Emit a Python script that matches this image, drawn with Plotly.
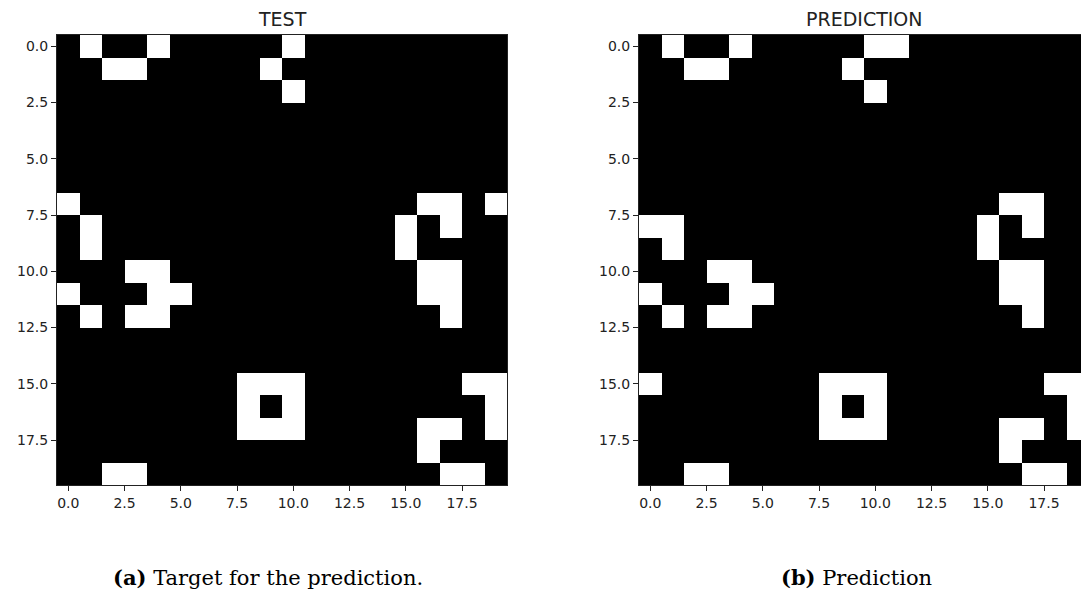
import plotly.graph_objects as go

# 20x20 binary grids (1 = white cell)
test_grid = [
    [0,1,0,0,1,0,0,0,0,0,1,0,0,0,0,0,0,0,0,0],
    [0,0,1,1,0,0,0,0,0,1,0,0,0,0,0,0,0,0,0,0],
    [0,0,0,0,0,0,0,0,0,0,1,0,0,0,0,0,0,0,0,0],
    [0,0,0,0,0,0,0,0,0,0,0,0,0,0,0,0,0,0,0,0],
    [0,0,0,0,0,0,0,0,0,0,0,0,0,0,0,0,0,0,0,0],
    [0,0,0,0,0,0,0,0,0,0,0,0,0,0,0,0,0,0,0,0],
    [0,0,0,0,0,0,0,0,0,0,0,0,0,0,0,0,0,0,0,0],
    [1,0,0,0,0,0,0,0,0,0,0,0,0,0,0,0,1,1,0,1],
    [0,1,0,0,0,0,0,0,0,0,0,0,0,0,0,1,0,1,0,0],
    [0,1,0,0,0,0,0,0,0,0,0,0,0,0,0,1,0,0,0,0],
    [0,0,0,1,1,0,0,0,0,0,0,0,0,0,0,0,1,1,0,0],
    [1,0,0,0,1,1,0,0,0,0,0,0,0,0,0,0,1,1,0,0],
    [0,1,0,1,1,0,0,0,0,0,0,0,0,0,0,0,0,1,0,0],
    [0,0,0,0,0,0,0,0,0,0,0,0,0,0,0,0,0,0,0,0],
    [0,0,0,0,0,0,0,0,0,0,0,0,0,0,0,0,0,0,0,0],
    [0,0,0,0,0,0,0,0,1,1,1,0,0,0,0,0,0,0,1,1],
    [0,0,0,0,0,0,0,0,1,0,1,0,0,0,0,0,0,0,0,1],
    [0,0,0,0,0,0,0,0,1,1,1,0,0,0,0,0,1,1,0,1],
    [0,0,0,0,0,0,0,0,0,0,0,0,0,0,0,0,1,0,0,0],
    [0,0,1,1,0,0,0,0,0,0,0,0,0,0,0,0,0,1,1,0],
]

pred_grid = [
    [0,1,0,0,1,0,0,0,0,0,1,1,0,0,0,0,0,0,0,0],
    [0,0,1,1,0,0,0,0,0,1,0,0,0,0,0,0,0,0,0,0],
    [0,0,0,0,0,0,0,0,0,0,1,0,0,0,0,0,0,0,0,0],
    [0,0,0,0,0,0,0,0,0,0,0,0,0,0,0,0,0,0,0,0],
    [0,0,0,0,0,0,0,0,0,0,0,0,0,0,0,0,0,0,0,0],
    [0,0,0,0,0,0,0,0,0,0,0,0,0,0,0,0,0,0,0,0],
    [0,0,0,0,0,0,0,0,0,0,0,0,0,0,0,0,0,0,0,0],
    [0,0,0,0,0,0,0,0,0,0,0,0,0,0,0,0,1,1,0,0],
    [1,1,0,0,0,0,0,0,0,0,0,0,0,0,0,1,0,1,0,0],
    [0,1,0,0,0,0,0,0,0,0,0,0,0,0,0,1,0,0,0,0],
    [0,0,0,1,1,0,0,0,0,0,0,0,0,0,0,0,1,1,0,0],
    [1,0,0,0,1,1,0,0,0,0,0,0,0,0,0,0,1,1,0,0],
    [0,1,0,1,1,0,0,0,0,0,0,0,0,0,0,0,0,1,0,0],
    [0,0,0,0,0,0,0,0,0,0,0,0,0,0,0,0,0,0,0,0],
    [0,0,0,0,0,0,0,0,0,0,0,0,0,0,0,0,0,0,0,0],
    [1,0,0,0,0,0,0,0,1,1,1,0,0,0,0,0,0,0,1,1],
    [0,0,0,0,0,0,0,0,1,0,1,0,0,0,0,0,0,0,0,1],
    [0,0,0,0,0,0,0,0,1,1,1,0,0,0,0,0,1,1,0,1],
    [0,0,0,0,0,0,0,0,0,0,0,0,0,0,0,0,1,0,0,0],
    [0,0,1,1,0,0,0,0,0,0,0,0,0,0,0,0,0,1,1,0],
]

tick_vals = [0, 2.5, 5, 7.5, 10, 12.5, 15, 17.5]
tick_text = ["0.0", "2.5", "5.0", "7.5", "10.0", "12.5", "15.0", "17.5"]
panel_titles = ["TEST", "PREDICTION"]
captions = ["<b>(a)</b> Target for the prediction.", "<b>(b)</b> Prediction"]

W, H = 1081, 591
cs = [[0, "black"], [1, "white"]]

fig = go.Figure()
fig.add_trace(go.Heatmap(z=test_grid, colorscale=cs, zmin=0, zmax=1,
                         showscale=False, xaxis="x", yaxis="y", hoverinfo="skip"))
fig.add_trace(go.Heatmap(z=pred_grid, colorscale=cs, zmin=0, zmax=1,
                         showscale=False, xaxis="x2", yaxis="y2", hoverinfo="skip"))

tickfont = dict(family="DejaVu Sans", size=14, color="#222222")
common = dict(tickmode="array", tickvals=tick_vals, ticktext=tick_text,
              ticks="outside", ticklen=5, tickwidth=1, tickcolor="#222222",
              showline=True, linecolor="#222222", linewidth=1, mirror=True,
              showgrid=False, zeroline=False, tickfont=tickfont)

ydom = [1 - 485 / H, 1 - 35 / H]
fig.update_layout(
    width=W, height=H,
    margin=dict(l=0, r=0, t=0, b=0),
    paper_bgcolor="white", plot_bgcolor="white",
    xaxis=dict(domain=[57 / W, 507 / W], range=[-0.5, 19.5], anchor="y", **common),
    yaxis=dict(domain=ydom, range=[19.5, -0.5], anchor="x", **common),
    xaxis2=dict(domain=[639 / W, 1.0], range=[-0.5, -0.5 + (W - 639) / 22.5], anchor="y2", **common),
    yaxis2=dict(domain=ydom, range=[19.5, -0.5], anchor="x2", **common),
    showlegend=False,
)

title_x = [282 / W, 864 / W]
cap_x = [267.5 / W, 856 / W]
for i in range(2):
    fig.add_annotation(text=panel_titles[i], x=title_x[i], y=1 - 19 / H,
                       xref="paper", yref="paper", showarrow=False,
                       xanchor="center", yanchor="middle",
                       font=dict(family="DejaVu Sans", size=19, color="#222222"))
    fig.add_annotation(text=captions[i], x=cap_x[i], y=1 - 577 / H,
                       xref="paper", yref="paper", showarrow=False,
                       xanchor="center", yanchor="middle",
                       font=dict(family="DejaVu Serif", size=21, color="black"))

fig.write_html("out.html")
